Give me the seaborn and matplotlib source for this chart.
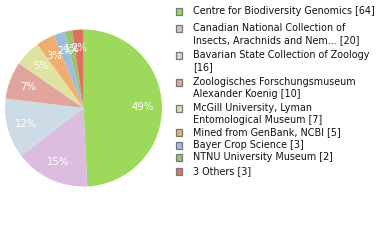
import matplotlib
matplotlib.use("Agg")
import matplotlib.pyplot as plt
from matplotlib.patches import Rectangle
import seaborn as sns

sns.set_theme(style="white")
plt.rcParams['font.family'] = ['DejaVu Sans']

labels = [
    "Centre for Biodiversity Genomics [64]",
    "Canadian National Collection of\nInsects, Arachnids and Nem... [20]",
    "Bavarian State Collection of Zoology\n[16]",
    "Zoologisches Forschungsmuseum\nAlexander Koenig [10]",
    "McGill University, Lyman\nEntomological Museum [7]",
    "Mined from GenBank, NCBI [5]",
    "Bayer Crop Science [3]",
    "NTNU University Museum [2]",
    "3 Others [3]",
]
values = [64, 20, 16, 10, 7, 5, 3, 2, 3]
colors = ["#9dd95a", "#dcbde0", "#cddbe6", "#e0a69d", "#dfe39f",
          "#f0ae6e", "#9dbde0", "#9bc26e", "#df715f"]

W, H = 380, 240
fig = plt.figure(figsize=(3.8, 2.4), dpi=100)
r = 78.5
cx, cy = 83.5, 108
ax = fig.add_axes([(cx - r) / W, 1 - (cy + r) / H, 2 * r / W, 2 * r / H])
wedges, texts, autotexts = ax.pie(
    values, colors=colors, startangle=90, counterclock=False,
    autopct=lambda p: f"{int(p)}%", pctdistance=0.76,
    wedgeprops=dict(linewidth=0),
    textprops=dict(color="white", fontsize=7.3),
)
ax.set_xlim(-1, 1)
ax.set_ylim(-1, 1)
ax.set_aspect("auto")
ax.axis("off")

sq_y = [11, 28, 55, 82, 108, 132, 145, 157, 171]
for lab, col, y in zip(labels, colors, sq_y):
    fig.patches.append(Rectangle((175.5 / W, 1 - (y + 3.5) / H), 6 / W, 6.5 / H,
                                 transform=fig.transFigure, facecolor=col,
                                 edgecolor="#777777", linewidth=0.9))
    nl = lab.count("\n")
    ty = y if nl == 0 else y + 6
    fig.text(193 / W, 1 - ty / H, lab, fontsize=6.9, va="center", ha="left",
             color="#111111", linespacing=1.2)

fig.savefig("out.png", dpi=100)
